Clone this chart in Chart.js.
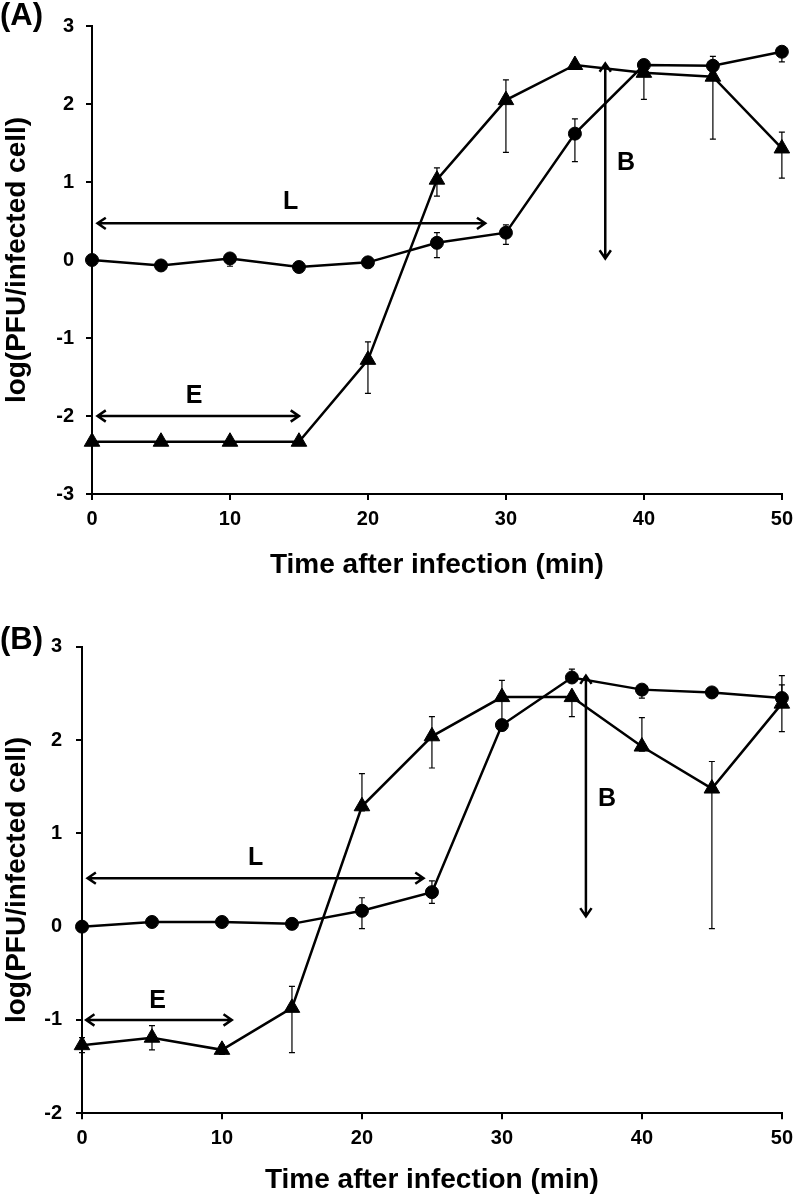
<!DOCTYPE html>
<html>
<head>
<meta charset="utf-8">
<script src="https://cdn.jsdelivr.net/npm/chart.js@4"></script>
<style>
  body { margin: 0; background: #fff; }
  .panel { position: relative; width: 800px; height: 600px; }
  .tag { position: absolute; left: 0; font: bold 31px 'Liberation Sans', Arial, sans-serif; color: #000; }
</style>
</head>
<body>
<div class="panel">
  <canvas id="chartA" width="800" height="600"></canvas>
  <div class="tag" style="top:-3px">(A)</div>
</div>
<div class="panel">
  <canvas id="chartB" width="800" height="600"></canvas>
  <div class="tag" style="top:21px">(B)</div>
</div>
<script>
const times = [0, 5, 10, 15, 20, 25, 30, 35, 40, 45, 50];
const xTicks = [0, 10, 20, 30, 40, 50];

// panel A
const circleA = [0, -0.07, 0.02, -0.09, -0.03, 0.22, 0.35, 1.62, 2.50, 2.49, 2.67];
const circleAUp = [0, 0, 0.03, 0, 0, 0.13, 0.1, 0.19, 0.03, 0.12, 0.05];
const circleADown = [0, 0, 0.1, 0, 0, 0.19, 0.15, 0.36, 0.03, 0.05, 0.13];
const triA = [-2.33, -2.33, -2.33, -2.33, -1.28, 1.03, 2.05, 2.50, 2.40, 2.35, 1.43];
const triAUp = [0, 0, 0, 0, 0.23, 0.15, 0.26, 0.03, 0.05, 0.05, 0.21];
const triADown = [0, 0, 0, 0, 0.43, 0.21, 0.67, 0.03, 0.34, 0.8, 0.38];
const arrowsA = [[0.4, 0.47, 28.5, 0.47], [0.4, -2.0, 15.0, -2.0], [37.2, 2.52, 37.2, 0.02]];
const notesA = [['L', 14.4, 0.74], ['E', 7.4, -1.75], ['B', 38.7, 1.24]];

// panel B
const circleB = [0, 0.05, 0.05, 0.03, 0.17, 0.37, 2.16, 2.67, 2.54, 2.51, 2.45];
const circleBUp = [0, 0, 0, 0.03, 0.14, 0.12, 0, 0.09, 0.05, 0.03, 0.14];
const circleBDown = [0, 0, 0, 0.06, 0.19, 0.12, 0, 0.05, 0.09, 0.03, 0.05];
const triB = [-1.27, -1.19, -1.32, -0.87, 1.29, 2.04, 2.46, 2.46, 1.93, 1.48, 2.39];
const triBUp = [0.08, 0.13, 0.05, 0.23, 0.35, 0.21, 0.18, 0.02, 0.31, 0.29, 0.3];
const triBDown = [0.08, 0.13, 0.05, 0.48, 0.05, 0.34, 0.3, 0.21, 0.05, 1.5, 0.3];
const arrowsB = [[0.4, 0.52, 24.4, 0.52], [0.3, -1.0, 10.7, -1.0], [36.0, 2.69, 36.0, 0.11]];
const notesB = [['L', 12.4, 0.73], ['E', 5.4, -0.8], ['B', 37.5, 1.37]];

Chart.defaults.font.family = "'Liberation Sans', Arial, sans-serif";
Chart.defaults.color = '#000';

const errorBars = {
    id: 'errorBars',
    beforeDatasetsDraw(chart) {
        const ctx = chart.ctx;
        const y = chart.scales.y;
        ctx.save();
        ctx.strokeStyle = '#000';
        ctx.lineWidth = 1.2;
        chart.data.datasets.forEach((ds, i) => {
            const meta = chart.getDatasetMeta(i);
            meta.data.forEach((pt, j) => {
                const v = ds.data[j].y;
                const up = ds.errUp[j], down = ds.errDown[j];
                if (!up && !down) return;
                const yt = y.getPixelForValue(v + up);
                const yb = y.getPixelForValue(v - down);
                ctx.beginPath();
                ctx.moveTo(pt.x, yt); ctx.lineTo(pt.x, yb);
                if (up) { ctx.moveTo(pt.x - 3, yt); ctx.lineTo(pt.x + 3, yt); }
                if (down) { ctx.moveTo(pt.x - 3, yb); ctx.lineTo(pt.x + 3, yb); }
                ctx.stroke();
            });
        });
        ctx.restore();
    }
};

function head(ctx, tx, ty, ang) {
    const len = 10, spread = 0.6;
    ctx.moveTo(tx - len * Math.cos(ang - spread), ty - len * Math.sin(ang - spread));
    ctx.lineTo(tx, ty);
    ctx.lineTo(tx - len * Math.cos(ang + spread), ty - len * Math.sin(ang + spread));
}

const arrowNotes = {
    id: 'arrowNotes',
    afterDatasetsDraw(chart, args, opts) {
        const ctx = chart.ctx;
        const {x, y} = chart.scales;
        ctx.save();
        ctx.strokeStyle = '#000';
        ctx.lineWidth = 2.5;
        opts.arrows.forEach(a => {
            const x0 = x.getPixelForValue(a[0]), y0 = y.getPixelForValue(a[1]);
            const x1 = x.getPixelForValue(a[2]), y1 = y.getPixelForValue(a[3]);
            const ang = Math.atan2(y1 - y0, x1 - x0);
            ctx.beginPath();
            ctx.moveTo(x0, y0); ctx.lineTo(x1, y1);
            head(ctx, x1, y1, ang);
            head(ctx, x0, y0, ang + Math.PI);
            ctx.stroke();
        });
        ctx.fillStyle = '#000';
        ctx.font = "bold 25px 'Liberation Sans', Arial, sans-serif";
        ctx.textAlign = 'center';
        ctx.textBaseline = 'middle';
        opts.notes.forEach(n => {
            ctx.fillText(n[0], x.getPixelForValue(n[1]), y.getPixelForValue(n[2]));
        });
        ctx.restore();
    }
};

function series(vals, up, down, style, r) {
    return {
        data: times.map((t, i) => ({x: t, y: vals[i]})),
        errUp: up,
        errDown: down,
        borderColor: '#000',
        backgroundColor: '#000',
        borderWidth: 2.5,
        pointStyle: style,
        pointRadius: r,
        pointHoverRadius: r,
        pointBorderWidth: 1,
        tension: 0,
        clip: false
    };
}

function makeChart(id, datasets, yMin, yMax, padTop, xHeight, yWidth, yPad, xTitlePad, arrows, notes) {
    const axisLine = {color: '#000', width: 2};
    const tickGrid = {display: true, drawOnChartArea: false, drawTicks: true, tickLength: 6, color: '#000', lineWidth: 2};
    return new Chart(document.getElementById(id).getContext('2d'), {
        type: 'line',
        data: {datasets: datasets},
        options: {
            responsive: false,
            animation: false,
            events: [],
            layout: {padding: {left: 0, right: 11, top: padTop, bottom: 0}},
            plugins: {
                legend: {display: false},
                tooltip: {enabled: false},
                arrowNotes: {arrows: arrows, notes: notes}
            },
            scales: {
                x: {
                    type: 'linear',
                    min: 0, max: 50,
                    afterBuildTicks: s => { s.ticks = xTicks.map(v => ({value: v})); },
                    afterFit: s => { s.height = xHeight; },
                    border: axisLine,
                    grid: tickGrid,
                    ticks: {font: {size: 20, weight: 'bold'}, padding: 7, color: '#000', maxRotation: 0},
                    title: {display: true, text: 'Time after infection (min)', font: {size: 28, weight: 'bold'}, color: '#000', padding: {top: 0, bottom: xTitlePad}}
                },
                y: {
                    min: yMin, max: yMax,
                    ticks: {stepSize: 1, font: {size: 20, weight: 'bold'}, padding: yPad, color: '#000'},
                    afterFit: s => { s.width = yWidth; },
                    border: axisLine,
                    grid: tickGrid,
                    title: {display: true, text: 'log(PFU/infected cell)', font: {size: 28, weight: 'bold'}, color: '#000', padding: {top: 0, bottom: 0}}
                }
            }
        },
        plugins: [errorBars, arrowNotes]
    });
}

makeChart('chartA', [
    series(circleA, circleAUp, circleADown, 'circle', 6.5),
    series(triA, triAUp, triADown, 'triangle', 9)
], -3, 3, 26, 106, 92, 12, 18, arrowsA, notesA);

makeChart('chartB', [
    series(circleB, circleBUp, circleBDown, 'circle', 6.5),
    series(triB, triBUp, triBDown, 'triangle', 9)
], -2, 3, 46.7, 86.7, 82, 14, 3, arrowsB, notesB);
</script>
</body>
</html>
